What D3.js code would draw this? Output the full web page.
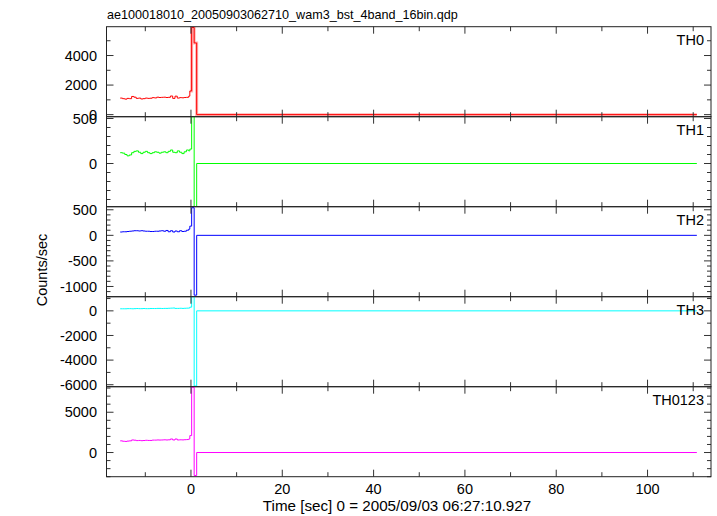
<!DOCTYPE html>
<html><head><meta charset="utf-8">
<script src="https://cdn.jsdelivr.net/npm/d3@7"></script>
<style>body{margin:0;background:#fff}svg{display:block}</style>
</head><body>
<script>
// ---- data ----
const times = [-15.5,-15,-14.5,-14,-13.5,-13,-12.5,-12,-11.5,-11,-10.5,-10,-9.5,-9,-8.5,-8,-7.5,-7,-6.5,-6,-5.5,-5,-4.5,-4,-3.5,-3,-2.5,-2,-1.5,-1,-0.5,-0.25,0.15,0.7,1.25,110.8];
const th0 = [1120,1080,1050,1100,1080,1230,1180,1100,1120,1060,1080,1120,1100,1110,1150,1130,1180,1160,1170,1180,1160,1170,1260,1100,1250,1120,1150,1140,1160,1170,1250,1600,5900,4850,0,0];
const th1 = [120,115,100,85,95,120,135,140,125,110,125,135,120,110,120,130,125,115,125,130,120,135,150,125,120,140,125,110,130,150,140,160,600,-700,0,0];
const th2 = [65,70,70,75,80,85,90,90,85,90,85,80,80,75,75,80,80,85,90,80,95,70,90,65,85,70,90,75,80,100,120,180,540,-1170,0,0];
const th3 = [170,170,170,180,180,170,180,190,180,180,190,180,180,190,190,190,200,200,190,200,200,210,220,230,200,200,210,200,210,220,230,300,1250,-6100,0,0];
const th0123 = [1450,1400,1380,1420,1450,1560,1530,1480,1500,1470,1490,1520,1500,1500,1540,1540,1560,1550,1560,1580,1560,1580,1680,1560,1680,1560,1580,1570,1590,1610,1680,2100,8100,-2850,0,0];
const series = [th0, th1, th2, th3, th0123];
const panelNames = ["TH0","TH1","TH2","TH3","TH0123"];
const xMajorTicks = [0,20,40,60,80,100];
const xMinorTicks = [-10,10,30,50,70,90,110];
const yTickLabels = [[0,2000,4000],[0,500],[-1000,-500,0,500],[-6000,-4000,-2000,0],[0,5000]];
const yMinorStep = [1000,100,100,1000,1000];
const yDomains = [[-140,5950],[-480,520],[-1200,560],[-6160,1150],[-3000,8170]];
const titleText = "ae100018010_20050903062710_wam3_bst_4band_16bin.qdp";
const xLabelText = "Time [sec] 0 = 2005/09/03 06:27:10.927";
const yLabelText = "Counts/sec";

// ---- layout / style ----
const W = 717, H = 516;
const left = 106.5, right = 711, top0 = 26.7, ph = 90;
const colors = ["#ff0000","#00ff00","#0000ff","#00ffff","#ff00ff"];
const font = "'Liberation Sans', Arial, Helvetica, sans-serif";

const svg = d3.select("body").append("svg").attr("width", W).attr("height", H)
  .style("background", "#fff");

const x = d3.scaleLinear().domain([-18.5, 113.9]).range([left, right]);

svg.append("text").attr("x", 107).attr("y", 19).attr("font-family", font)
  .attr("font-size", 12.6).attr("fill", "#000").text(titleText);

const defs = svg.append("defs");

series.forEach((vals, i) => {
  const pt = top0 + i * ph, pb = pt + ph;
  const y = d3.scaleLinear().domain(yDomains[i]).range([pb, pt]);
  const g = svg.append("g");
  defs.append("clipPath").attr("id", "clip" + i).append("rect")
    .attr("x", left).attr("y", pt).attr("width", right - left).attr("height", ph);

  const pts = times.map((t, k) => [t, vals[k]]);
  const line = d3.line().x(d => x(d[0])).y(d => y(d[1])).curve(d3.curveStepAfter);
  const lg = g.append("g").attr("clip-path", `url(#clip${i})`);
  if (i === 0) {
    lg.append("path").attr("d", line(pts.slice(31))).attr("fill", "none")
      .attr("stroke", colors[i]).attr("stroke-opacity", 0.3).attr("stroke-width", 3);
  }
  lg.append("path").attr("d", line(pts)).attr("fill", "none")
    .attr("stroke", colors[i]).attr("stroke-width", 1);

  // y ticks (left and right, inward)
  const step = yMinorStep[i];
  const yt = d3.range(Math.ceil(yDomains[i][0] / step) * step, yDomains[i][1] + 1e-9, step);
  yt.forEach(v => {
    const major = yTickLabels[i].includes(v);
    const len = major ? 7 : 4;
    const yy = y(v);
    g.append("line").attr("x1", left).attr("x2", left + len).attr("y1", yy).attr("y2", yy)
      .attr("stroke", "#333").attr("stroke-width", 1);
    g.append("line").attr("x1", right - len).attr("x2", right).attr("y1", yy).attr("y2", yy)
      .attr("stroke", "#333").attr("stroke-width", 1);
  });
  yTickLabels[i].forEach(v => {
    g.append("text").attr("x", 97).attr("y", y(v)).attr("dy", "0.36em")
      .attr("text-anchor", "end").attr("font-family", font).attr("font-size", 14.5)
      .attr("fill", "#000").text(v);
  });

  // x ticks top and bottom, inward
  const xt = xMajorTicks.map(v => [v, 7]).concat(xMinorTicks.map(v => [v, 4.5]));
  xt.forEach(([v, len]) => {
    const xx = x(v);
    g.append("line").attr("x1", xx).attr("x2", xx).attr("y1", pt).attr("y2", pt + len)
      .attr("stroke", "#333").attr("stroke-width", 1);
    g.append("line").attr("x1", xx).attr("x2", xx).attr("y1", pb - len).attr("y2", pb)
      .attr("stroke", "#333").attr("stroke-width", 1);
  });

  g.append("rect").attr("x", left).attr("y", pt).attr("width", right - left).attr("height", ph)
    .attr("fill", "none").attr("stroke", "#222").attr("stroke-width", 1);

  g.append("text").attr("x", 704).attr("y", pt + 18).attr("text-anchor", "end")
    .attr("font-family", font).attr("font-size", 14.5).attr("fill", "#000").text(panelNames[i]);
});

const bottom = top0 + 5 * ph;
xMajorTicks.forEach(v => {
  svg.append("text").attr("x", x(v)).attr("y", bottom + 17.5).attr("text-anchor", "middle")
    .attr("font-family", font).attr("font-size", 14.5).attr("fill", "#000").text(v);
});
svg.append("text").attr("x", 397).attr("y", 511).attr("text-anchor", "middle")
  .attr("font-family", font).attr("font-size", 15.2).attr("fill", "#000").text(xLabelText);
svg.append("text").attr("transform", `translate(47,270) rotate(-90)`).attr("text-anchor", "middle")
  .attr("font-family", font).attr("font-size", 14.5).attr("fill", "#000").text(yLabelText);
</script>
</body></html>
